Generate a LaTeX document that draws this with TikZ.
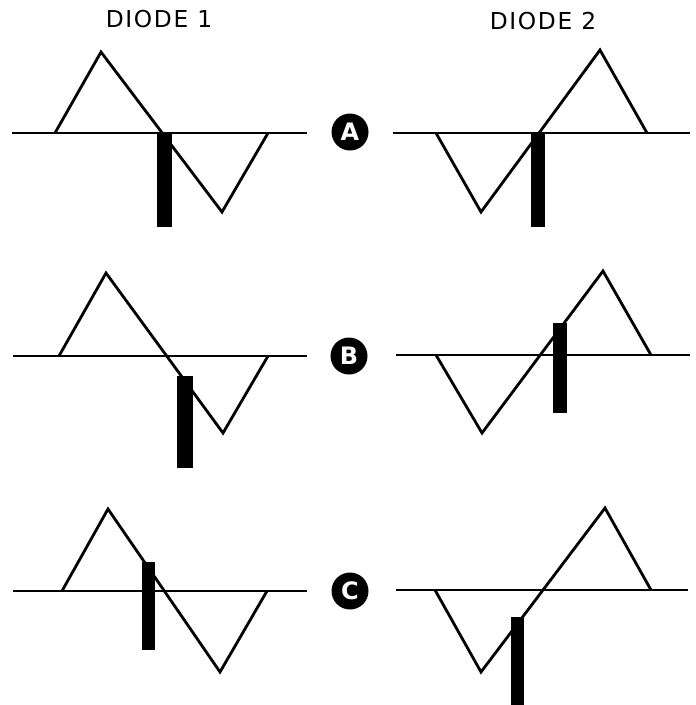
\documentclass[tikz,border=0pt]{standalone}
\usepackage{fontspec}
\setmainfont{DejaVu Sans}
\newfontfamily\headfont[LetterSpace=7]{DejaVu Sans}
\usepackage{tikz}
\usetikzlibrary{positioning}

\begin{document}
\begin{tikzpicture}[x=1pt, y=-1pt,
    axisline/.style={draw=black, line width=2.6pt},
    wave/.style={draw=black, line width=2.8pt, line join=miter},
    pulse/.style={fill=black, draw=none},
    tag/.style={circle, fill=black, text=white, minimum size=37pt, inner sep=0pt, font=\bfseries\fontsize{24}{24}\selectfont},
    head/.style={font=\headfont\fontsize{23.3}{28}\selectfont, inner sep=0pt}]
    \useasboundingbox (0,0) rectangle (696,705);

    % column titles
    \node [head] (title1) at (159,19) {DIODE 1};
    \node [head] (title2) at (543,21) {DIODE 2};

    % row A
    \node [tag] (tagA) at (350,132) {A};
    \draw [axisline] (12,133) -- (307,133);
    \draw [axisline] (393,133) -- (690,133);
    \draw [wave] (55,133) -- (101,52) -- (222,212) -- (268,133);
    \draw [wave] (436,133) -- (481,212) -- (600,50) -- (647,133);
    \fill [pulse] (157,133) rectangle (172,227);
    \fill [pulse] (531,133) rectangle (545,227);

    % row B
    \node [tag] (tagB) at (349,356) {B};
    \draw [axisline] (13,356) -- (307,356);
    \draw [axisline] (396,355) -- (690,355);
    \draw [wave] (59,356) -- (106,273) -- (223,433) -- (268,356);
    \draw [wave] (436,355) -- (482,433) -- (603,271) -- (651,355);
    \fill [pulse] (177,376) rectangle (193,468);
    \fill [pulse] (553,323) rectangle (567,413);

    % row C
    \node [tag] (tagC) at (350,591) {C};
    \draw [axisline] (13,591) -- (307,591);
    \draw [axisline] (396,590) -- (688,590);
    \draw [wave] (62,591) -- (108,509) -- (220,672) -- (267,591);
    \draw [wave] (435,590) -- (481,672) -- (605,508) -- (651,590);
    \fill [pulse] (142,562) rectangle (155,650);
    \fill [pulse] (511,617) rectangle (524,705);
\end{tikzpicture}
\end{document}
